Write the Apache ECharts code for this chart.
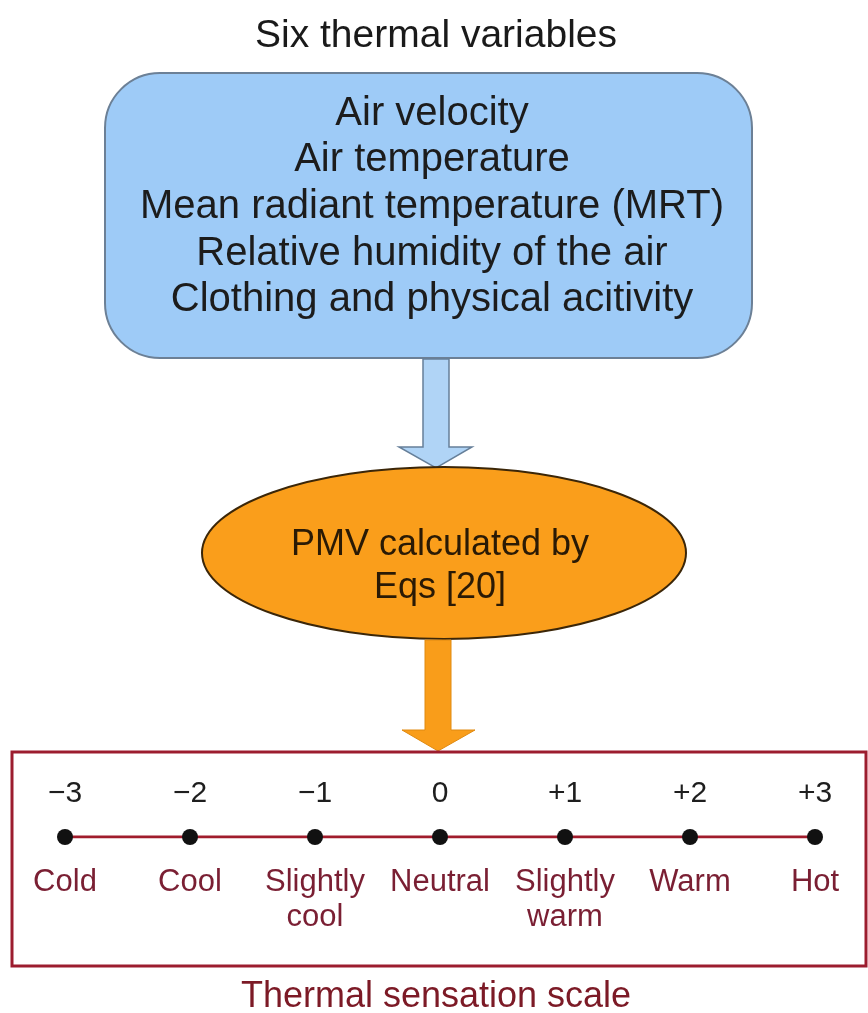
<!DOCTYPE html>
<html>
<head>
<meta charset="UTF-8">
<title></title>
<script src="https://cdn.jsdelivr.net/npm/echarts@6/dist/echarts.min.js"></script>
<style>
  * { margin: 0; padding: 0; }
  body { background: #fff; }
  #app { width: 868px; height: 1013px; }
</style>
</head>
<body>
<div id="app"></div>
<script>
var FONT = '"Liberation Sans", Arial, sans-serif';

// scale data
var scaleValues = [-3, -2, -1, 0, 1, 2, 3];
var scaleTicks = ['\u22123', '\u22122', '\u22121', '0', '+1', '+2', '+3'];
var sensations = ['Cold', 'Cool', 'Slightly\ncool', 'Neutral', 'Slightly\nwarm', 'Warm', 'Hot'];

// box texts
var topTitle = 'Six thermal variables';
var variables = [
  'Air velocity',
  'Air temperature',
  'Mean radiant temperature (MRT)',
  'Relative humidity of the air',
  'Clothing and physical acitivity'
];
var pmvLines = ['PMV calculated by', 'Eqs [20]'];
var bottomTitle = 'Thermal sensation scale';

var myChart = echarts.init(document.getElementById('app'));

var varYs = [114, 160, 207, 254, 300];

var graphics = [
  { type: 'text', style: { text: topTitle, x: 436, y: 36, align: 'center', verticalAlign: 'middle', fontSize: 39, fontFamily: FONT, fill: '#1a1a1a' } },
  { type: 'rect', shape: { x: 105, y: 73, width: 647, height: 285, r: 55 },
    style: { fill: '#9ecbf7', stroke: '#6c8096', lineWidth: 2 } },
  { type: 'polygon', shape: { points: [[423, 359], [449, 359], [449, 447], [472, 447], [436, 468], [399, 447], [423, 447]] },
    style: { fill: '#b0d4f6', stroke: '#667f99', lineWidth: 1.5 } },
  { type: 'ellipse', shape: { cx: 444, cy: 553, rx: 242, ry: 86 },
    style: { fill: '#fa9e1b', stroke: '#3b2608', lineWidth: 2 } },
  { type: 'polygon', shape: { points: [[425, 640], [451, 640], [451, 730], [475, 730], [438, 751], [402, 730], [425, 730]] },
    style: { fill: '#f99d1a', stroke: '#e08a10', lineWidth: 1 } },
  { type: 'rect', shape: { x: 12, y: 752, width: 854, height: 214 },
    style: { fill: 'none', stroke: '#9c1c2e', lineWidth: 3 } },
  { type: 'text', style: { text: bottomTitle, x: 436, y: 997, align: 'center', verticalAlign: 'middle', fontSize: 36, fontFamily: FONT, fill: '#7c1a26' } }
];

variables.forEach(function (t, i) {
  graphics.push({ type: 'text', style: { text: t, x: 432, y: varYs[i], align: 'center', verticalAlign: 'middle', fontSize: 40, fontFamily: FONT, fill: '#1c1c1c' } });
});
pmvLines.forEach(function (t, i) {
  graphics.push({ type: 'text', style: { text: t, x: 440, y: 545 + i * 43, align: 'center', verticalAlign: 'middle', fontSize: 36, fontFamily: FONT, fill: '#2a1a05' } });
});

var option = {
  animation: false,
  backgroundColor: '#fff',
  graphic: graphics,
  grid: { left: 65, right: 53, top: 797, bottom: 176 },
  xAxis: {
    type: 'value',
    min: -3,
    max: 3,
    interval: 1,
    axisLine: { show: false },
    axisTick: { show: false },
    splitLine: { show: false },
    axisLabel: {
      margin: 28,
      fontSize: 31,
      lineHeight: 35,
      fontFamily: FONT,
      color: '#7a1f33',
      formatter: function (v) { return sensations[scaleValues.indexOf(v)]; }
    }
  },
  yAxis: { type: 'value', min: 0, max: 1, show: false },
  series: [{
    type: 'line',
    data: scaleValues.map(function (v) { return [v, 0]; }),
    symbol: 'circle',
    symbolSize: 16,
    itemStyle: { color: '#111' },
    lineStyle: { color: '#a01c2c', width: 3 },
    label: {
      show: true,
      position: 'top',
      distance: 20,
      fontSize: 30,
      fontFamily: FONT,
      color: '#1e1e1e',
      formatter: function (p) { return scaleTicks[p.dataIndex]; }
    }
  }]
};

myChart.setOption(option);
</script>
</body>
</html>
